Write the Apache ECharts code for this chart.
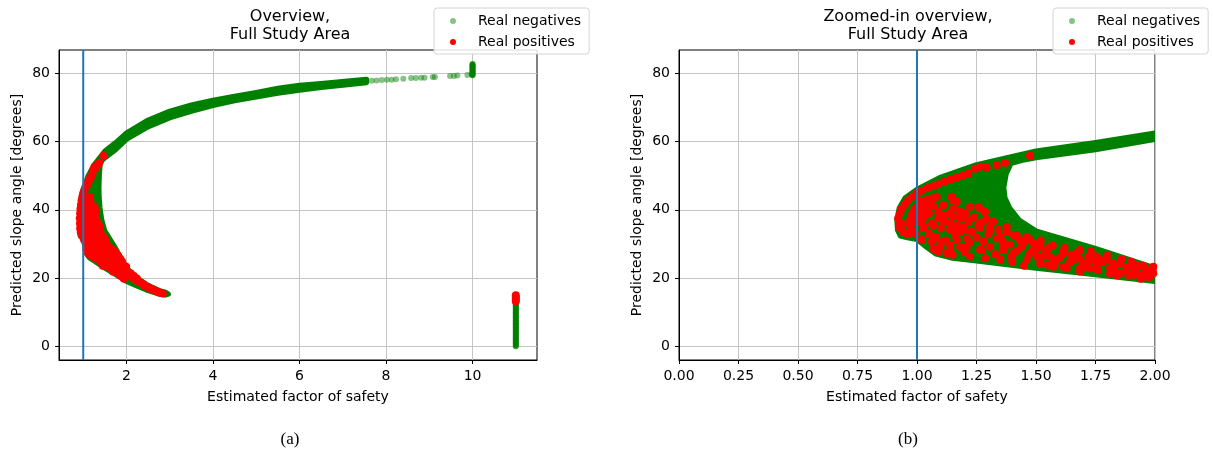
<!DOCTYPE html>
<html>
<head>
<meta charset="utf-8">
<script src="https://cdn.jsdelivr.net/npm/echarts@6/dist/echarts.min.js"></script>
<style>
  html, body { margin: 0; padding: 0; background: #fff; }
  #chart { width: 1213px; height: 450px; }
</style>
</head>
<body>
<div id="chart"></div>
<script>
// Factor-of-safety threshold (vertical reference line)
const failureThreshold = 1;

// Tick labels
const xTicksOverview = [2, 4, 6, 8, 10];
const xTicksZoomed = [0, 0.25, 0.5, 0.75, 1, 1.25, 1.5, 1.75, 2];
const yTicks = [0, 20, 40, 60, 80];

// Dense cloud of real negatives: outline of the band [FS, slope angle]
const negativesBand = [
  [7.55, 78.2], [7.17, 77.8], [6.5, 77.0], [6.0, 76.5], [5.5, 75.6], [5.0, 74.4],
  [4.5, 73.3], [4.0, 72.1], [3.5, 70.7], [3.0, 68.9], [2.5, 66.3], [2.0, 62.5],
  [1.75, 59.7], [1.5, 57.2], [1.25, 53.2], [1.1, 49.6], [1.0, 46.0], [0.95, 43.5],
  [0.925, 40.5], [0.915, 37.0], [0.918, 34.0], [0.93, 32.3], [0.96, 31.8],
  [1.0, 31.3], [1.04, 29.0], [1.08, 27.0], [1.15, 25.8], [1.25, 25.0], [1.5, 22.9],
  [1.75, 21.0], [2.0, 19.0], [2.25, 17.6], [2.5, 16.3], [2.75, 15.3], [2.9, 15.0],
  [2.97, 15.3], [2.9, 15.9], [2.75, 16.4], [2.5, 17.9], [2.25, 20.0], [2.0, 23.0],
  [1.75, 28.7], [1.6, 31.8], [1.5, 33.8], [1.43, 37.0], [1.39, 40.5], [1.37, 43.5],
  [1.365, 46.5], [1.375, 50.5], [1.395, 53.5], [1.45, 54.6], [1.5, 55.2],
  [1.75, 57.6], [2.0, 60.6], [2.5, 64.3], [3.0, 66.9], [3.5, 68.8], [4.0, 70.5],
  [4.5, 71.9], [5.0, 73.0], [5.5, 74.1], [6.0, 75.0], [6.5, 75.8], [7.17, 76.7],
  [7.55, 77.2]
];

// Isolated real negatives: tail of the upper arm
const negativesTail = [
  [7.67, 77.8], [7.78, 77.9], [7.90, 78.0], [8.02, 78.1], [8.13, 78.1], [8.23, 78.2],
  [8.40, 78.4], [8.58, 78.6], [8.69, 78.6], [8.81, 78.7], [8.89, 78.7], [9.08, 78.9],
  [9.13, 78.9], [9.48, 79.2], [9.57, 79.2], [9.65, 79.3], [9.88, 79.5], [9.98, 79.6]
];

// Real negatives capped at FS = 10 and FS = 11
const negativesCapped = [
  [10, 79.4], [10, 79.7], [10, 80.0], [10, 80.3], [10, 80.6], [10, 80.9], [10, 81.2],
  [10, 81.5], [10, 81.8], [10, 82.1], [10, 82.4], [10, 82.7],
  [11, 0.0], [11, 0.4], [11, 0.8], [11, 1.2], [11, 1.6], [11, 2.0], [11, 2.4], [11, 2.8],
  [11, 3.2], [11, 3.6], [11, 4.0], [11, 4.4], [11, 4.8], [11, 5.2], [11, 5.6], [11, 6.0],
  [11, 6.4], [11, 6.8], [11, 7.2], [11, 7.6], [11, 8.0], [11, 8.4], [11, 8.8], [11, 9.2],
  [11, 9.6], [11, 10.0], [11, 10.4], [11, 10.8], [11, 11.2], [11, 11.6], [11, 12.0],
  [11, 12.4], [11, 12.8]
];

// Real positives [FS, slope angle]
const realPositives = [
  // outer rim of the nose
  [0.929, 34.6], [0.925, 36.0], [0.921, 37.5], [0.928, 39.0], [0.935, 40.2], [0.948, 41.5],
  [0.962, 42.7], [0.980, 43.8], [0.998, 44.8], [1.020, 45.6], [1.045, 46.4], [1.069, 46.9],
  [1.090, 47.5], [1.115, 48.2], [1.140, 48.9], [1.165, 49.4], [1.190, 49.9], [1.215, 50.6],
  [1.243, 52.0], [1.265, 52.6], [1.293, 52.4], [1.335, 53.1], [1.370, 53.8], [1.475, 55.8],
  // inner rim
  [0.978, 34.1], [0.972, 35.6], [0.971, 37.0], [0.976, 38.3], [0.984, 39.4], [0.995, 40.5],
  [1.006, 41.4], [1.022, 42.2], [1.041, 42.9], [1.062, 43.4], [1.083, 43.8],
  // body of the cloud
  [0.936, 36.0], [0.942, 33.6], [0.971, 35.5], [0.992, 33.1], [1.020, 31.2], [1.026, 34.6],
  [1.069, 35.5], [1.062, 30.7], [1.090, 27.7], [1.125, 27.3], [1.139, 29.7], [1.167, 31.2],
  [1.153, 34.1], [1.188, 35.0], [1.209, 29.2], [1.230, 33.6], [1.258, 35.5], [1.272, 28.2],
  [1.286, 25.8], [1.307, 34.1], [1.335, 31.6], [1.363, 29.2], [1.377, 35.0], [1.398, 26.3],
  [1.419, 32.6], [1.440, 29.2], [1.475, 31.2], [1.482, 27.7], [1.503, 29.7], [1.531, 26.3],
  [1.552, 28.7], [1.573, 25.3], [1.615, 27.7], [1.643, 24.8], [1.671, 27.3], [1.699, 24.3],
  [1.720, 26.3], [1.685, 22.9], [1.615, 23.3],
  [1.146, 43.8], [1.167, 42.4], [1.111, 41.4], [1.069, 41.0], [1.041, 41.4], [1.090, 39.4],
  [1.139, 39.0], [1.153, 40.4], [1.202, 39.0], [1.181, 37.5], [1.258, 40.9], [1.286, 39.4],
  [1.139, 36.0], [1.216, 36.5], [1.020, 36.5], [1.062, 36.0], [1.026, 39.9], [1.013, 42.4],
  [1.139, 34.1], [1.181, 33.6], [1.209, 31.6], [1.265, 34.6], [1.307, 35.0], [1.342, 34.1],
  [1.377, 33.6], [1.405, 32.6], [1.433, 31.1], [1.461, 32.1], [1.489, 30.2], [1.517, 29.2],
  [1.545, 28.2], [1.559, 26.3], [1.503, 26.3], [1.461, 25.3], [1.405, 27.3], [1.363, 28.2],
  [1.307, 29.2], [1.265, 28.2], [1.223, 26.3], [1.181, 29.2], [1.139, 28.2], [1.097, 29.2],
  [1.027, 35.0], [1.111, 36.5], [1.152, 38.0], [1.181, 39.4], [1.223, 40.9], [1.265, 40.4],
  [1.152, 42.9], [1.055, 41.9], [1.615, 27.3], [1.657, 25.3], [1.685, 28.2], [1.713, 24.3],
  [1.755, 26.3], [1.825, 24.3], [1.881, 22.4], [1.951, 23.3], [1.965, 20.4], [1.573, 23.3],
  [1.517, 24.3], [1.629, 22.9], [1.685, 21.9], [1.755, 23.9], [1.811, 21.4], [1.909, 20.9],
  [1.993, 23.3], [1.769, 25.3], [1.811, 22.9], [1.853, 24.3], [1.909, 23.3], [1.937, 20.9],
  [1.965, 22.3], [1.993, 21.4], [1.979, 20.4], [1.888, 20.9], [1.923, 23.7], [1.853, 21.4],
  [1.797, 25.3], [1.741, 25.3], [1.727, 22.9],
  [1.05, 33.0], [1.08, 32.0], [1.10, 34.5], [1.12, 31.0], [1.16, 32.5], [1.20, 34.2],
  [1.22, 30.5], [1.25, 32.0], [1.28, 30.8], [1.30, 32.8], [1.32, 36.5], [1.35, 32.0],
  [1.29, 37.2], [1.24, 37.8], [1.27, 36.3],
  [1.33, 27.0], [1.36, 30.8], [1.39, 29.8], [1.42, 28.0], [1.45, 30.5], [1.47, 27.0],
  [1.50, 28.5], [1.52, 31.0], [1.54, 27.3], [1.57, 29.5], [1.60, 26.0], [1.58, 24.5],
  [1.55, 23.8], [1.45, 23.6], [1.40, 24.8], [1.35, 25.5], [1.62, 28.8], [1.65, 26.8],
  [1.68, 25.8],
  [1.70, 23.2], [1.73, 27.8], [1.76, 22.3], [1.78, 24.6], [1.80, 26.6], [1.83, 22.4],
  [1.86, 25.6], [1.84, 20.8], [1.90, 24.8], [1.92, 22.0], [1.95, 23.6], [1.97, 21.5],
  [1.99, 22.5], [1.88, 23.2], [1.94, 19.8],
  [1.00, 36.5], [1.00, 38.5], [1.03, 37.8], [0.96, 32.8], [1.05, 39.0], [1.09, 37.5],
  [1.12, 38.5], [1.17, 35.5], [1.20, 37.8], [1.10, 30.5], [1.07, 28.5], [1.15, 26.8],
  [1.20, 27.8],
  // lower arm beyond FS = 2
  [2.03, 21.8], [2.06, 20.8], [2.10, 21.3], [2.13, 20.2], [2.17, 20.6], [2.20, 19.6],
  [2.24, 19.9], [2.28, 19.0], [2.32, 18.7], [2.36, 18.4], [2.40, 18.0], [2.44, 17.7],
  [2.48, 17.4], [2.52, 17.2], [2.56, 16.9], [2.60, 16.7], [2.64, 16.4], [2.68, 16.2],
  [2.72, 16.0], [2.76, 15.8], [2.80, 15.6], [2.84, 15.5],
  // capped column
  [11, 13.2], [11, 13.8], [11, 14.4], [11, 15.0]
];

const FONT = 'DejaVu Sans';
const GREEN = '#008000';
const GREEN_ALPHA = 'rgba(0,128,0,0.6)';
const RED = '#ff0000';
const Y_MIN = -4, Y_MAX = 86.8;

const chart = echarts.init(document.getElementById('chart'), null, { renderer: 'canvas' });

function bandRenderer(params, api) {
  if (params.dataIndex !== 0) return null;
  const pts = negativesBand.map(p => api.coord(p));
  const cs = params.coordSys;
  return {
    type: 'polygon',
    shape: { points: pts },
    style: { fill: GREEN, stroke: GREEN, lineWidth: 5, lineJoin: 'round' },
    clipPath: { type: 'rect', shape: { x: cs.x, y: cs.y, width: cs.width, height: cs.height } }
  };
}

function panelSeries(idx) {
  return [
    {
      name: 'Real negatives', type: 'scatter', xAxisIndex: idx, yAxisIndex: idx,
      data: negativesTail, symbolSize: 6, itemStyle: { color: GREEN_ALPHA }, z: 2,
      emphasis: { disabled: true }
    },
    {
      name: 'Real negatives', type: 'scatter', xAxisIndex: idx, yAxisIndex: idx,
      data: negativesCapped, symbolSize: 6, itemStyle: { color: GREEN }, z: 2,
      emphasis: { disabled: true }
    },
    {
      name: 'Real negatives', type: 'custom', xAxisIndex: idx, yAxisIndex: idx,
      data: negativesBand, renderItem: bandRenderer, clip: true,
      itemStyle: { color: GREEN }, encode: { x: 0, y: 1 }, z: 2, silent: true
    },
    {
      name: 'Real positives', type: 'scatter', xAxisIndex: idx, yAxisIndex: idx,
      data: realPositives, symbolSize: 8, itemStyle: { color: RED, opacity: 1 }, z: 3,
      emphasis: { disabled: true }
    },
    {
      name: 'threshold', type: 'line', xAxisIndex: idx, yAxisIndex: idx,
      data: [[failureThreshold, Y_MIN], [failureThreshold, Y_MAX]],
      symbol: 'none', lineStyle: { color: '#1f77b4', width: 2 }, z: 5, silent: true
    }
  ];
}

function xAxisCfg(grid, min, max, ticks, fmt, interval) {
  const cfg = {
    gridIndex: grid, type: 'value', min: min, max: max,
    name: 'Estimated factor of safety', nameLocation: 'middle', nameGap: 30,
    nameTextStyle: { fontFamily: FONT, fontSize: 14, color: '#000' },
    axisLine: { show: true, onZero: false, lineStyle: { color: '#000', width: 1 } },
    axisTick: { show: true, length: 4, customValues: ticks, lineStyle: { color: '#000' } },
    axisLabel: {
      show: true, margin: 9, fontFamily: FONT, fontSize: 14, color: '#000',
      customValues: ticks, formatter: fmt
    },
    splitLine: { show: true, lineStyle: { color: '#c4c4c4', width: 1 } }
  };
  if (interval) cfg.interval = interval;
  return cfg;
}

function yAxisCfg(grid) {
  return {
    gridIndex: grid, type: 'value', min: Y_MIN, max: Y_MAX,
    name: 'Predicted slope angle [degrees]', nameLocation: 'middle', nameGap: 35,
    nameRotate: 90,
    nameTextStyle: { fontFamily: FONT, fontSize: 14, color: '#000' },
    axisLine: { show: true, onZero: false, lineStyle: { color: '#000', width: 1 } },
    axisTick: { show: true, length: 4, customValues: yTicks, lineStyle: { color: '#000' } },
    axisLabel: {
      show: true, margin: 9, fontFamily: FONT, fontSize: 14, color: '#000',
      customValues: yTicks,
      formatter: v => (yTicks.indexOf(v) >= 0 ? String(v) : '')
    },
    splitLine: { show: true, lineStyle: { color: '#c4c4c4', width: 1 } }
  };
}

function legendCfg(left) {
  return {
    left: left, top: 8, orient: 'vertical', icon: 'circle',
    itemWidth: 40, itemHeight: 6, itemGap: 5,
    padding: [5, 8, 4, 16],
    backgroundColor: 'rgba(255,255,255,0.85)', borderColor: '#d4d4d4', borderWidth: 1,
    borderRadius: 3,
    selectedMode: false,
    textStyle: { fontFamily: FONT, fontSize: 14, color: '#000', lineHeight: 16 },
    data: [
      { name: 'Real negatives', itemStyle: { color: GREEN_ALPHA } },
      { name: 'Real positives', itemStyle: { color: RED } }
    ],
    z: 20
  };
}

function textEl(x, y, text, size, family, lh) {
  return {
    type: 'text', x: x, y: y, z: 30,
    style: {
      text: text, fill: '#000', font: size + 'px "' + family + '"',
      align: 'center', verticalAlign: 'middle', textAlign: 'center', textVerticalAlign: 'middle',
      lineHeight: lh || size
    }
  };
}

const option = {
  backgroundColor: '#fff',
  animation: false,
  grid: [
    { left: 59, top: 50, width: 478, height: 310, show: true, borderColor: '#000', borderWidth: 1, backgroundColor: 'transparent' },
    { left: 679, top: 50, width: 476, height: 310, show: true, borderColor: '#000', borderWidth: 1, backgroundColor: 'transparent' }
  ],
  xAxis: [
    xAxisCfg(0, 0.44, 11.49, xTicksOverview,
      v => (xTicksOverview.indexOf(v) >= 0 ? String(v) : '')),
    xAxisCfg(1, 0, 2, xTicksZoomed, v => v.toFixed(2), 0.25)
  ],
  yAxis: [yAxisCfg(0), yAxisCfg(1)],
  legend: [legendCfg(434), legendCfg(1053)],
  graphic: [
    textEl(290, 26, 'Overview,\nFull Study Area', 16, FONT, 18.5),
    textEl(908, 26, 'Zoomed-in overview,\nFull Study Area', 16, FONT, 18.5),
    textEl(290, 440, '(a)', 17, 'Liberation Serif'),
    textEl(908, 440, '(b)', 17, 'Liberation Serif')
  ],
  series: panelSeries(0).concat(panelSeries(1))
};

chart.setOption(option);
</script>
</body>
</html>
